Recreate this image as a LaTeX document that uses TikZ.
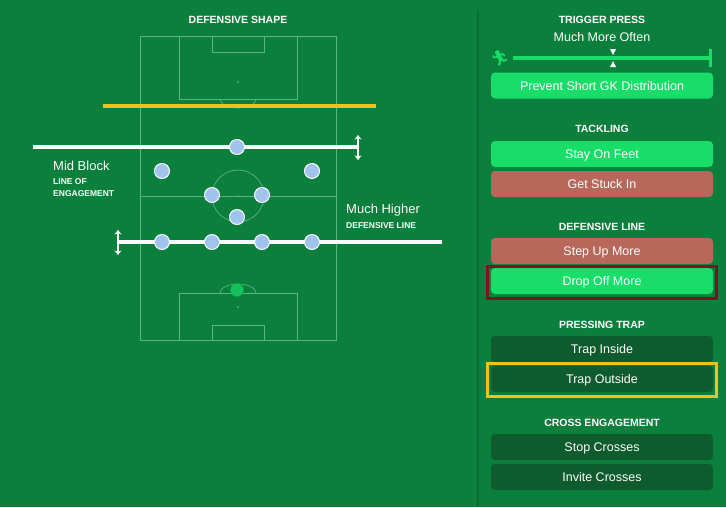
\documentclass[tikz,border=0pt]{standalone}
\usepackage{fontspec}
\usetikzlibrary{arrows.meta}
\setmainfont{Liberation Sans}
\newfontfamily\emo{Noto Emoji}
\definecolor{bg}{HTML}{0B7F3C}
\definecolor{pline}{HTML}{5FB47E}
\definecolor{bright}{HTML}{18DD68}
\definecolor{redb}{HTML}{B8685A}
\definecolor{darkb}{HTML}{0E5B2D}
\definecolor{plyr}{HTML}{A0C4EE}
\definecolor{gold}{HTML}{F2C21B}
\definecolor{maroon}{HTML}{7A1420}
\definecolor{divc}{HTML}{0A6B33}
\tikzset{
 pl/.style={draw=pline,line width=0.7pt},
 player/.style={circle,fill=plyr,draw=white,line width=1pt,minimum size=15pt,inner sep=0pt},
 wline/.style={white,line width=4pt},
 darr/.style={white,line width=2.5pt,{Stealth[length=4.5pt,width=7pt]}-{Stealth[length=4.5pt,width=7pt]}},
 btn/.style={rounded corners=4pt,minimum width=222pt,minimum height=26pt,inner sep=0pt,text=white,text height=9pt,text depth=0pt,font=\fontsize{12.5}{12.5}\selectfont},
 ttl/.style={text=white,font=\bfseries\fontsize{10.5}{10.5}\selectfont},
 lbl/.style={text=white,font=\fontsize{13}{13}\selectfont,anchor=west,inner sep=0pt},
 slbl/.style={text=white,font=\bfseries\fontsize{8.5}{9}\selectfont,anchor=west,inner sep=0pt},
}
\begin{document}
\begin{tikzpicture}[x=1pt,y=-1pt]
\fill[bg] (0,0) rectangle (726,507);
\useasboundingbox (0,0) rectangle (726,507);
\draw[divc,line width=1.2pt] (478,10) -- (478,507);
% pitch
\draw[pl] (140,36) rectangle (336,340);
\draw[pl] (140,196) -- (336,196);
\draw[pl] (238,196) circle (26);
\draw[pl] (179,36) rectangle (297,99);
\draw[pl] (212,36) rectangle (264,52);
\draw[pl] (220,99) arc (180:0:18 and 9);
\draw[pl] (179,293) rectangle (297,340);
\draw[pl] (212,325) rectangle (264,340);
\draw[pl] (220,293) arc (180:360:18 and 9);
\fill[pline] (238,82) circle (1) (238,307) circle (1) (238,196) circle (1);
\node[ttl] (dt) at (238,20) {DEFENSIVE SHAPE};
% lines
\draw[gold,line width=3.5pt] (103,106) -- (376,106);
\coordinate (l1a) at (33,147); \coordinate (l1b) at (358,147);
\coordinate (l2a) at (118,242); \coordinate (l2b) at (442,242);
\draw[wline] (l1a) -- (l1b);
\draw[wline] (l2a) -- (l2b);
\coordinate (a1t) at (358,135); \coordinate (a1b) at (358,160);
\coordinate (a2t) at (118,230); \coordinate (a2b) at (118,255);
\draw[darr] (a1t) -- (a1b);
\draw[darr] (a2t) -- (a2b);
\node[player] (p1) at (237,147) {};
\node[player] (p2) at (162,171) {};
\node[player] (p3) at (312,171) {};
\node[player] (p4) at (212,195) {};
\node[player] (p5) at (262,195) {};
\node[player] (p6) at (237,217) {};
\node[player] (p7) at (162,242) {};
\node[player] (p8) at (212,242) {};
\node[player] (p9) at (262,242) {};
\node[player] (p10) at (312,242) {};
\node[circle,fill=bright!70!bg,draw=bright!50!bg,minimum size=13pt,inner sep=0pt] (gk) at (237,290) {};
\node[lbl] (mb) at (53,166) {Mid Block};
\node[slbl] (lo) at (53,182) {LINE OF};
\node[slbl] (en) at (53,194) {ENGAGEMENT};
\node[lbl] (mh) at (346,210) {Much Higher};
\node[slbl] (dl) at (346,226) {DEFENSIVE LINE};
% right panel
\node[ttl] (tp) at (602,20) {TRIGGER PRESS};
\node[text=white,font=\fontsize{12.5}{12.5}\selectfont] (mmo) at (602,37) {Much More Often};
\coordinate (s1) at (513,58); \coordinate (s2) at (710,58);
\draw[bright,line width=3.5pt] (s1) -- (s2);
\draw[bright,line width=3pt] (710,49) -- (710,67);
\fill[white] (610,49) -- (616,49) -- (613,55) -- cycle;
\fill[white] (610,67) -- (616,67) -- (613,61) -- cycle;
\node[text=bright,font=\emo\fontsize{15}{15}\selectfont] (run) at (500,58) {🏃};
\node[btn,fill=bright] (b1) at (602,85.5) {Prevent Short GK Distribution};
\node[ttl] (tk) at (602,129) {TACKLING};
\node[btn,fill=bright] (b2) at (602,154) {Stay On Feet};
\node[btn,fill=redb] (b3) at (602,184) {Get Stuck In};
\node[ttl] (dfl) at (602,227) {DEFENSIVE LINE};
\node[btn,fill=redb] (b4) at (602,251) {Step Up More};
\node[btn,fill=bright] (b5) at (602,281) {Drop Off More};
\draw[maroon,line width=3pt] (487,266) rectangle (716,298);
\node[ttl] (pt) at (602,325) {PRESSING TRAP};
\node[btn,fill=darkb] (b6) at (602,349) {Trap Inside};
\node[btn,fill=darkb] (b7) at (602,379) {Trap Outside};
\draw[gold,line width=3pt] (487,363) rectangle (716,396);
\node[ttl] (ce) at (602,423) {CROSS ENGAGEMENT};
\node[btn,fill=darkb] (b8) at (602,447) {Stop Crosses};
\node[btn,fill=darkb] (b9) at (602,477) {Invite Crosses};
\end{tikzpicture}
\end{document}
